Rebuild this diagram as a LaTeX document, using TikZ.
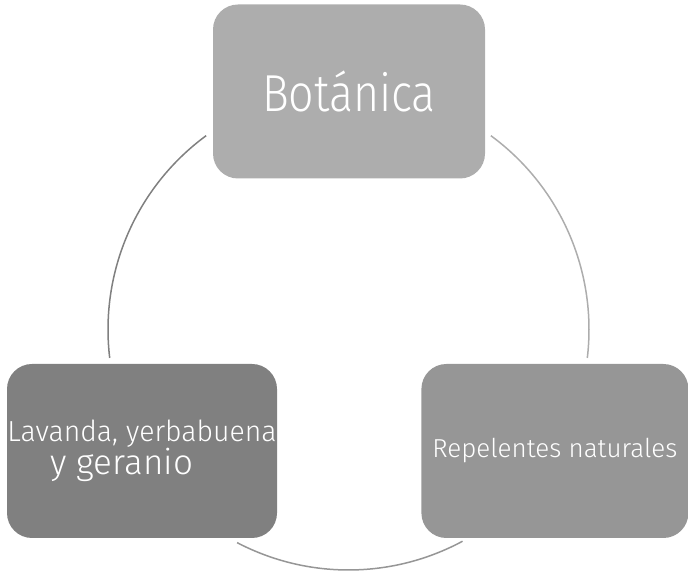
\documentclass[tikz,border=0pt]{standalone}
\usepackage{fontspec}
\setmainfont{Fira Sans Light}
\newfontfamily\titlefont{Fira Sans Light}[FakeStretch=0.86]
\newfontfamily\narrowfont{Fira Sans Light}[FakeStretch=0.98]
\usepackage{xcolor}
\definecolor{TopGrey}{HTML}{ADADAD}
\definecolor{LeftGrey}{HTML}{808080}
\definecolor{RightGrey}{HTML}{969696}
\usetikzlibrary{positioning}
\tikzstyle{block} = [rectangle, draw=none, text=white, minimum width=270pt, minimum height=174pt, rounded corners=25pt, align=center, inner sep=0pt]
\tikzstyle{ring} = [line width=1.5pt]

\begin{document}
\begin{tikzpicture}[x=1pt, y=1pt]
        \useasboundingbox (0,0) rectangle (688,575);
        % Boxes
        \node [block, fill=TopGrey, minimum width=272pt, font=\titlefont\fontsize{52}{60}\selectfont] (botanica) at (349,483.5) {Botánica};
        \node [block, fill=LeftGrey, align=left, font=\narrowfont\fontsize{29}{32}\selectfont] (plantas) at (142,124) {Lavanda, yerbabuena\\\hspace*{43pt}{\rmfamily\fontsize{35}{32}\selectfont y geranio}};
        \node [block, fill=RightGrey, minimum width=267pt, right=144pt of plantas, font=\fontsize{26}{30}\selectfont] (repelentes) {Repelentes naturales};

        % Cycle arcs
        \coordinate (hub) at (348.5,245.5);
        \draw [ring, color=LeftGrey] (hub) ++(186.8:240.5) arc[start angle=186.8, end angle=126.3, radius=240.5];
        \draw [ring, color=TopGrey] (hub) ++(53.7:240.5) arc[start angle=53.7, end angle=-6.8, radius=240.5];
        \draw [ring, color=RightGrey] (hub) ++(-61.7:240.5) arc[start angle=-61.7, end angle=-117.6, radius=240.5];
    \end{tikzpicture}
\end{document}
